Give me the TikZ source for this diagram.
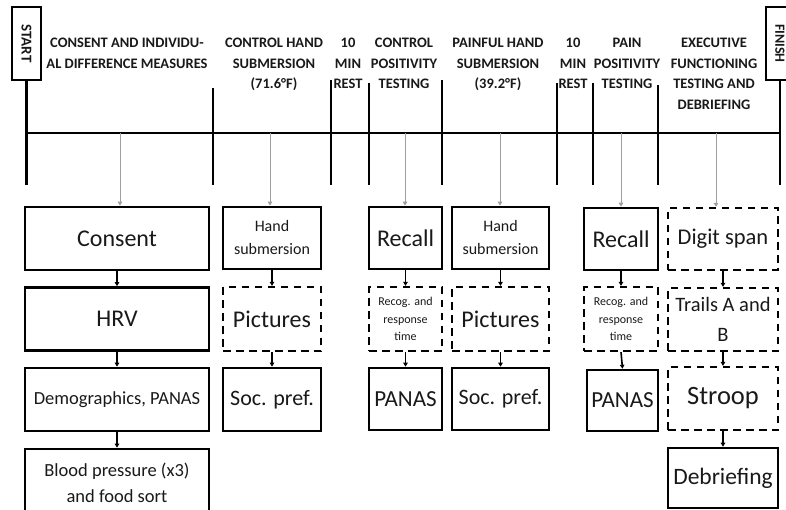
\documentclass[tikz,border=0pt]{standalone}
\usepackage{fontspec}
\usepackage{graphicx}
\setmainfont{Carlito}
\usetikzlibrary{arrows.meta}
\colorlet{ink}{black!90}
\tikzset{
  head/.style={font=\bfseries\fontsize{14.5}{20.5}\selectfont, align=center,
    anchor=north, inner sep=0, text=ink},
  rule/.style={line width=2.2pt},
  stage/.style={draw, line width=2.6pt, align=center, inner sep=0, text=ink},
  optstage/.style={stage, line width=2.2pt, dash pattern=on 7.5pt off 5.5pt},
  endpoint/.style={stage, line width=2.4pt, minimum height=73,
    font=\bfseries\fontsize{15}{18}\selectfont},
  feed/.style={draw=gray!75, line width=1pt, -{Triangle[length=4pt,width=4.5pt]}},
  link/.style={line width=1.6pt, -{Triangle[length=4pt,width=4.5pt]}},
}
\begin{document}
\begin{tikzpicture}[x=1pt, y=-1pt]
  \useasboundingbox (0,0) rectangle (786,510);

  % start and finish
  \node[endpoint, minimum width=29] (start) at (26.5,43.5) {\rotatebox{-90}{START}};
  \node[endpoint, minimum width=28] (finish) at (780,43.5)
    {\rotatebox{-90}{\fontsize{14}{17}\selectfont FINISH}};

  % timeline
  \coordinate (tl) at (0,133);
  \coordinate (bot) at (0,185);
  \draw[rule] (start.south) -- (start.south |- bot);
  \draw[rule] (finish.south) -- (finish.south |- bot);
  \draw[rule] (start.south |- tl) -- (finish.south |- tl);
  \foreach \x/\t in {213/88, 331/80, 369/83, 442/80, 557/83, 593/83, 658/85}
    \draw[rule] (\x,\t) -- (\x,185);

  % phase headings
  \node[head] (h1) at (127,38) {CONSENT AND INDIVIDU-\\AL DIFFERENCE MEASURES};
  \node[head] (h2) at (274,38) {CONTROL HAND\\SUBMERSION\\(71.6°F)};
  \node[head] (h3) at (348,38) {10\\MIN\\REST};
  \node[head] (h4) at (404,38) {CONTROL\\POSITIVITY\\TESTING};
  \node[head] (h5) at (498,38) {PAINFUL HAND\\SUBMERSION\\(39.2°F)};
  \node[head] (h6) at (573,38) {10\\MIN\\REST};
  \node[head] (h7) at (627,38) {PAIN\\POSITIVITY\\TESTING};
  \node[head] (h8) at (714,38) {EXECUTIVE\\FUNCTIONING\\TESTING AND\\DEBRIEFING};

  % consent and individual differences
  \node[stage, minimum width=184, minimum height=63, font=\fontsize{24}{28}\selectfont]
    (consent) at (117,238.5) {Consent};
  \node[stage, minimum width=184, minimum height=63, font=\fontsize{24}{28}\selectfont]
    (hrv) at (117,319) {HRV};
  \node[stage, minimum width=184, minimum height=63, font=\fontsize{18.5}{26}\selectfont]
    (demo) at (117,399.5) {Demographics, PANAS};
  \node[stage, minimum width=184, minimum height=67, font=\fontsize{18.5}{26}\selectfont]
    (blood) at (117,482.5) {Blood pressure (x3)\\and food sort};

  % control hand submersion
  \node[stage, minimum width=98, minimum height=62, font=\fontsize{16}{23}\selectfont]
    (hand1) at (272,238) {Hand\\submersion};
  \node[optstage, minimum width=98, minimum height=64, font=\fontsize{24}{28}\selectfont]
    (pict1) at (272,319) {Pictures};
  \node[stage, minimum width=98, minimum height=63, font=\fontsize{22}{26}\selectfont]
    (soc1) at (272,399.5) {Soc. pref.};

  % control positivity testing
  \node[stage, minimum width=73, minimum height=62, font=\fontsize{24}{28}\selectfont]
    (recall1) at (405.5,238) {Recall};
  \node[optstage, minimum width=73, minimum height=64, font=\fontsize{12}{17.5}\selectfont]
    (recog1) at (405.5,319) {Recog. and\\response\\time};
  \node[stage, minimum width=73, minimum height=62, font=\fontsize{23}{27}\selectfont]
    (panas1) at (405.5,399) {PANAS};

  % painful hand submersion
  \node[stage, minimum width=97, minimum height=62, font=\fontsize{16}{23}\selectfont]
    (hand2) at (500.5,238) {Hand\\submersion};
  \node[optstage, minimum width=97, minimum height=64, font=\fontsize{24}{28}\selectfont]
    (pict2) at (500.5,319) {Pictures};
  \node[stage, minimum width=97, minimum height=62, font=\fontsize{22}{26}\selectfont]
    (soc2) at (500.5,399) {Soc. pref.};

  % pain positivity testing
  \node[stage, minimum width=74, minimum height=62, font=\fontsize{24}{28}\selectfont]
    (recall2) at (621,239) {Recall};
  \node[optstage, minimum width=74, minimum height=64, font=\fontsize{12}{17.5}\selectfont]
    (recog2) at (621,319) {Recog. and\\response\\time};
  \node[stage, minimum width=71, minimum height=61, font=\fontsize{23}{27}\selectfont]
    (panas2) at (622.5,400.5) {PANAS};

  % executive functioning and debriefing
  \node[optstage, minimum width=110, minimum height=62, font=\fontsize{22.5}{27}\selectfont]
    (digit) at (723,239) {Digit span};
  \node[optstage, minimum width=110, minimum height=63, font=\fontsize{20.5}{30}\selectfont]
    (trails) at (723,319.5) {Trails A and\\B};
  \node[optstage, minimum width=110, minimum height=63, font=\fontsize{26.5}{30}\selectfont]
    (stroop) at (723,398.5) {Stroop};
  \node[stage, minimum width=110, minimum height=60, font=\fontsize{23.5}{28}\selectfont]
    (debrief) at (723,478) {Debriefing};

  % feeds from the timeline
  \foreach \n/\x in {consent/120, hand1/270, recall1/405, hand2/500, recall2/621, digit/716}
    \draw[feed] (\x,133) -- (\x,133 |- \n.north);

  % sequence inside each phase
  \foreach \a/\b in {consent/hrv, hrv/demo, demo/blood, hand1/pict1, pict1/soc1,
      recall1/recog1, recog1/panas1, hand2/pict2, pict2/soc2, recall2/recog2,
      recog2/panas2, digit/trails, trails/stroop, stroop/debrief}
    \draw[link] (\a.south) -- (\b.north);
\end{tikzpicture}
\end{document}
